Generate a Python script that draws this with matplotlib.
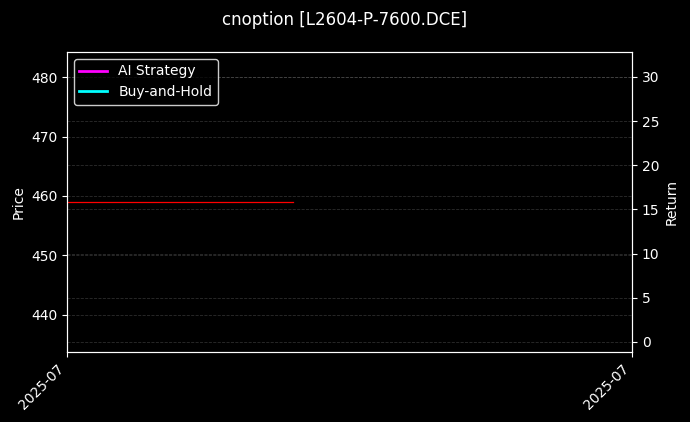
import matplotlib
matplotlib.use("Agg")
import matplotlib.pyplot as plt
import numpy as np
import pandas as pd

dates = pd.to_datetime(["2025-07-01", "2025-07-02", "2025-07-03", "2025-07-04", "2025-07-05", "2025-07-06"])
price_dates = dates[:3]
price = [459.0, 459.0, 459.0]
ai_strategy = [np.nan] * 6
buy_hold = [np.nan] * 6
tick_labels = ["2025-07", "2025-07"]

fig = plt.figure(figsize=(6.9, 4.22), dpi=100, facecolor="black")
ax = fig.add_axes([0.097, 0.166, 0.819, 0.711])
ax.set_facecolor("black")
ax2 = ax.twinx()

ax.plot(price_dates, price, color="red", linewidth=0.9)
ax2.plot(dates, ai_strategy, color="#ff00ff", linewidth=2, label="AI Strategy")
ax2.plot(dates, buy_hold, color="cyan", linewidth=2, label="Buy-and-Hold")

ax.set_xlim(dates[0], dates[-1])
ax2.set_ylim(-1.13, 32.83)
ax.set_xticks([dates[0], dates[-1]])
ax.set_xticklabels(tick_labels, rotation=45, ha="right")

for a in (ax, ax2):
    a.tick_params(colors="white", labelsize=10)
    for s in a.spines.values():
        s.set_color("white")
    a.grid(True, linestyle="--", color="gray", alpha=0.35, linewidth=0.6)

ax.set_ylabel("Price", color="white")
ax2.set_ylabel("Return", color="white")
fig.suptitle("cnoption [L2604-P-7600.DCE]", color="white", fontsize=12, y=0.975)

leg = ax2.legend(loc="upper left", facecolor="black", edgecolor="white", labelcolor="white", fontsize=10)

fig.savefig("out.png", dpi=100, facecolor="black")
